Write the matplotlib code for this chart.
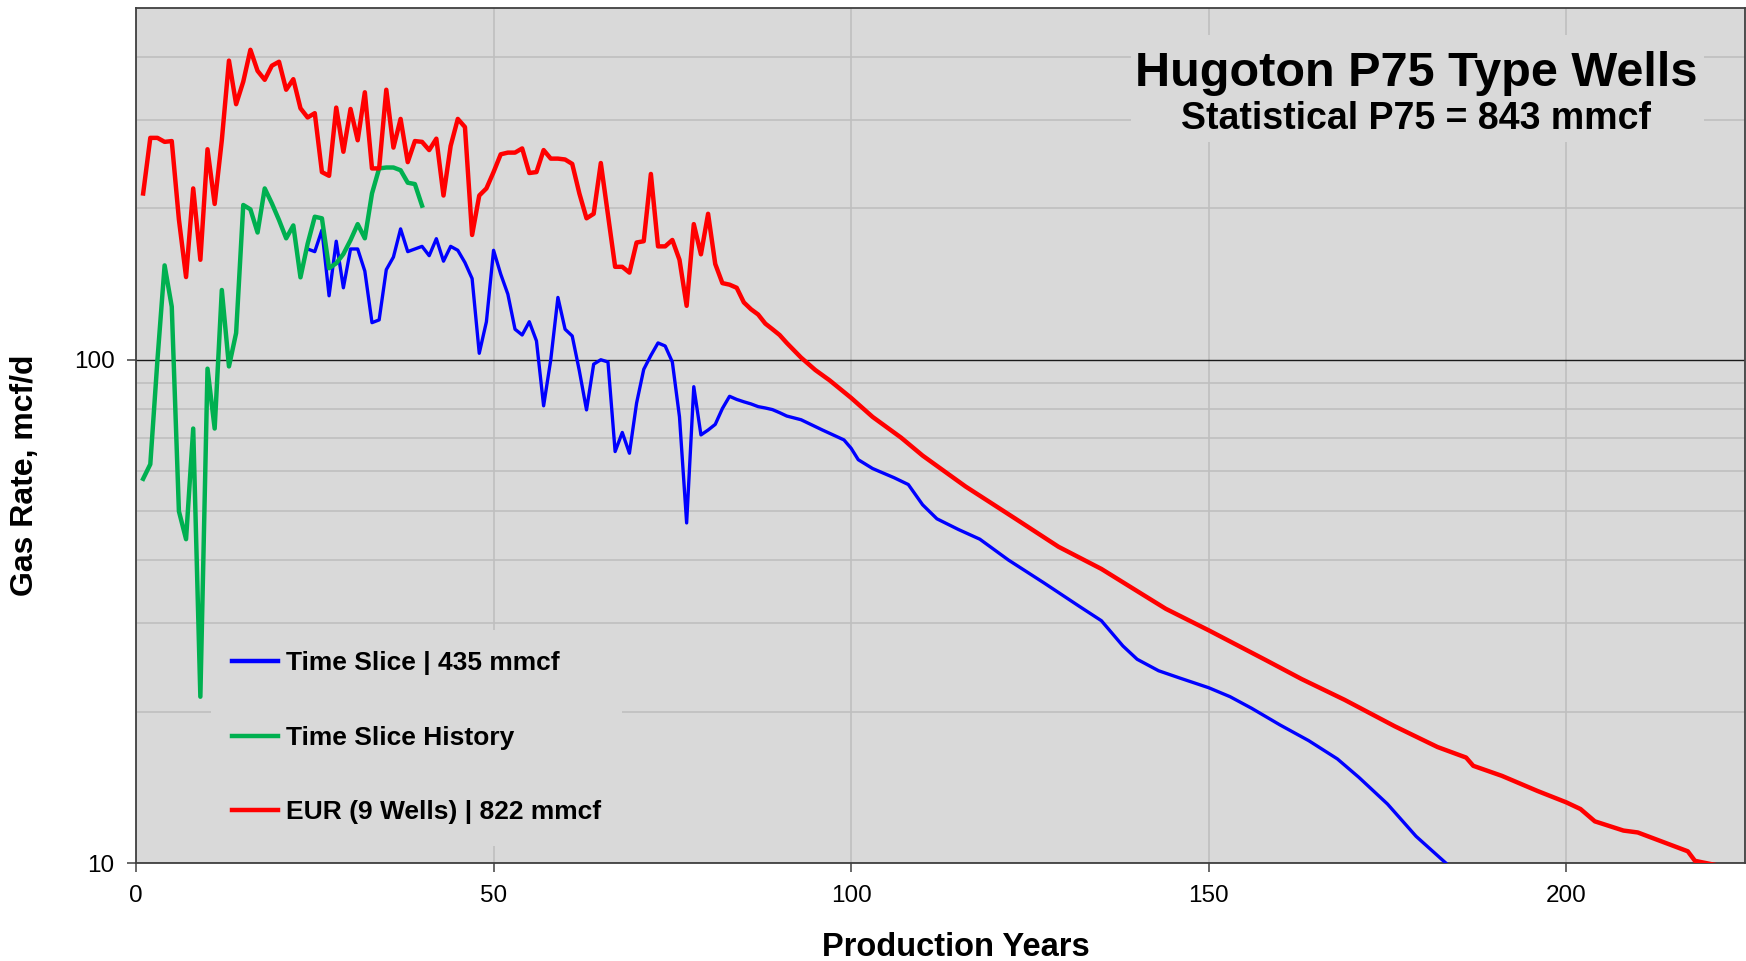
import matplotlib
matplotlib.use("Agg")
import matplotlib.pyplot as plt
from matplotlib.patches import Rectangle
from matplotlib.ticker import FixedLocator, NullFormatter

plt.rcParams['font.family'] = ['Liberation Sans', 'DejaVu Sans']

# ---- data -------------------------------------------------------------
# EUR (9 wells): monthly history 1..91, then the forecast decline
eur_x = list(range(1, 92)) + [93, 95, 97, 100, 103, 107, 110, 116, 123, 129,
                              135, 141, 144, 150, 158, 163, 169, 176, 182, 186,
                              187, 191, 196, 200, 202, 204, 208, 210, 217, 218, 221]
eur_y = [214, 276, 276, 271, 272, 190, 146, 219, 158, 262,
         204, 273, 393, 322, 357, 413, 375, 360, 384, 391,
         344, 361, 316, 303, 309, 236, 232, 317, 259, 315,
         273, 340, 240, 240, 344, 264, 301, 247, 272, 271,
         261, 275, 212, 266, 301, 290, 177, 212, 219, 236,
         256, 258, 258, 263, 235, 236, 261, 251, 251, 250,
         245, 214, 191, 195, 246, 194, 153, 153, 149, 171,
         172, 234, 168, 168, 173, 158, 128, 186, 162, 195,
         155, 142, 141, 139, 130, 126, 123, 118, 115, 112,
         108,
         101, 95.4, 91, 84, 77, 70, 64.5, 56, 48.3, 42.5,
         38.4, 34, 32, 29, 25.3, 23.2, 21.1, 18.7, 17.0, 16.2,
         15.6, 14.9, 13.9, 13.2, 12.8, 12.1, 11.6, 11.5, 10.55, 10.1, 9.9]

# Time slice: 24..91 monthly, then the decline
ts_x = list(range(24, 92)) + [93, 96, 99, 100, 101, 103, 106, 108, 110, 112,
                              115, 118, 122, 127, 132, 135, 138, 140, 143, 146,
                              150, 153, 156, 160, 164, 168, 171, 175, 179, 183.5]
ts_y = [166, 164, 181, 134, 172, 139, 166, 166, 150, 118.5,
        120, 151, 160, 182, 164, 166, 168, 161, 174, 157,
        168, 165, 156, 145, 103, 119, 165, 148, 135, 115,
        112, 119, 109, 81, 100, 133, 115, 111.5, 95, 79.5,
        98, 100, 99, 65.7, 71.7, 65.2, 82, 95.7, 102, 108,
        106.5, 99, 77, 47.4, 88.4, 70.9, 72.5, 74.4, 80, 84.6,
        83.4, 82.5, 81.7, 80.7, 80.2, 79.6, 78.5, 77.3,
        76, 72.5, 69.3, 66.7, 63.3, 60.8, 58.3, 56.5, 51.5, 48.3,
        46, 44, 40, 36, 32.3, 30.3, 27, 25.4, 24.1, 23.3,
        22.3, 21.4, 20.3, 18.8, 17.5, 16.1, 14.8, 13.1, 11.3, 9.9]

# Time slice history: months 1..40
hist_x = list(range(1, 41))
hist_y = [58, 62, 100, 154, 127.5, 50, 44, 73, 21.4, 96,
          73, 137.6, 97, 113, 203, 199, 179, 219, 204.5, 189.5,
          174.3, 184.9, 145.8, 170, 192.4, 191, 152, 155.5, 162.2, 172.9,
          186, 174.3, 214, 240, 241, 241, 238, 224.8, 223.4, 202.4]

labels = ["Time Slice | 435 mmcf", "Time Slice History", "EUR (9 Wells) | 822 mmcf"]
title = "Hugoton P75 Type Wells"
subtitle = "Statistical P75 = 843 mmcf"
x_ticks = [0, 50, 100, 150, 200]
y_major = [10, 100]
y_minor = [20, 30, 40, 50, 60, 70, 80, 90, 200, 300, 400]

# ---- figure -----------------------------------------------------------
W, H = 1746, 961
fig = plt.figure(figsize=(W / 100, H / 100), dpi=100)
ax = fig.add_axes([136 / W, 1 - 863 / H, (1745 - 136) / W, (863 - 8) / H])
ax.set_facecolor('#d9d9d9')

ax.set_yscale('log')
ax.set_xlim(0, 225)
ax.set_ylim(10, 500)

ax.plot(ts_x, ts_y, color='#0000ff', lw=2.4, zorder=3, label=labels[0],
        solid_joinstyle='round')
ax.plot(hist_x, hist_y, color='#00b050', lw=3.2, zorder=4, label=labels[1],
        solid_joinstyle='round')
ax.plot(eur_x, eur_y, color='#ff0000', lw=3.2, zorder=5, label=labels[2],
        solid_joinstyle='round')

# ticks and grid
ax.xaxis.set_major_locator(FixedLocator(x_ticks))
ax.yaxis.set_major_locator(FixedLocator(y_major))
ax.yaxis.set_minor_locator(FixedLocator(y_minor))
ax.yaxis.set_minor_formatter(NullFormatter())
ax.set_yticklabels([str(v) for v in y_major])
ax.tick_params(axis='both', which='major', direction='out', length=6.5,
               width=1.1, color='#404040', labelsize=17.5, labelcolor='black')
ax.tick_params(axis='x', which='major', pad=9)
ax.tick_params(axis='y', which='major', pad=9)
ax.tick_params(axis='y', which='minor', length=0)

ax.set_axisbelow(True)
ax.grid(True, axis='x', which='major', color='#bfbfbf', lw=1.2)
ax.grid(True, axis='y', which='minor', color='#bfbfbf', lw=1.2)
ax.grid(True, axis='y', which='major', color='#1a1a1a', lw=1.0)

for s in ax.spines.values():
    s.set_color('#404040')
    s.set_linewidth(1.3)

# title block with a plain backing panel
ax.add_patch(Rectangle(((1131 - 136) / 1609, (863 - 142) / 855),
                       (1704 - 1131) / 1609, (142 - 35) / 855,
                       transform=ax.transAxes, facecolor='#d9d9d9',
                       edgecolor='none', zorder=1))
fig.text(1416 / W, 1 - 86 / H, title, ha='center', va='baseline',
         fontsize=35, fontweight='bold')
fig.text(1416 / W, 1 - 129 / H, subtitle, ha='center', va='baseline',
         fontsize=27, fontweight='bold')

# axis labels
fig.text(956 / W, 1 - 956 / H, "Production Years", ha='center', va='baseline',
         fontsize=23.5, fontweight='bold')
fig.text(25 / W, 1 - 475 / H, "Gas Rate, mcf/d", ha='center', va='center',
         rotation=90, fontsize=23, fontweight='bold')

# legend
leg = ax.legend(loc='upper left',
                bbox_to_anchor=((211 - 136) / 1609, (863 - 630) / 855),
                borderaxespad=0, frameon=True, facecolor='#d9d9d9',
                edgecolor='none', framealpha=1, fancybox=False,
                prop={'weight': 'bold', 'size': 19},
                handlelength=1.75, handletextpad=0.3, labelspacing=1.92,
                borderpad=0.8)
for line in leg.get_lines():
    line.set_linewidth(3.2)
leg.set_zorder(6)

fig.savefig('out.png', dpi=100, facecolor='white')
